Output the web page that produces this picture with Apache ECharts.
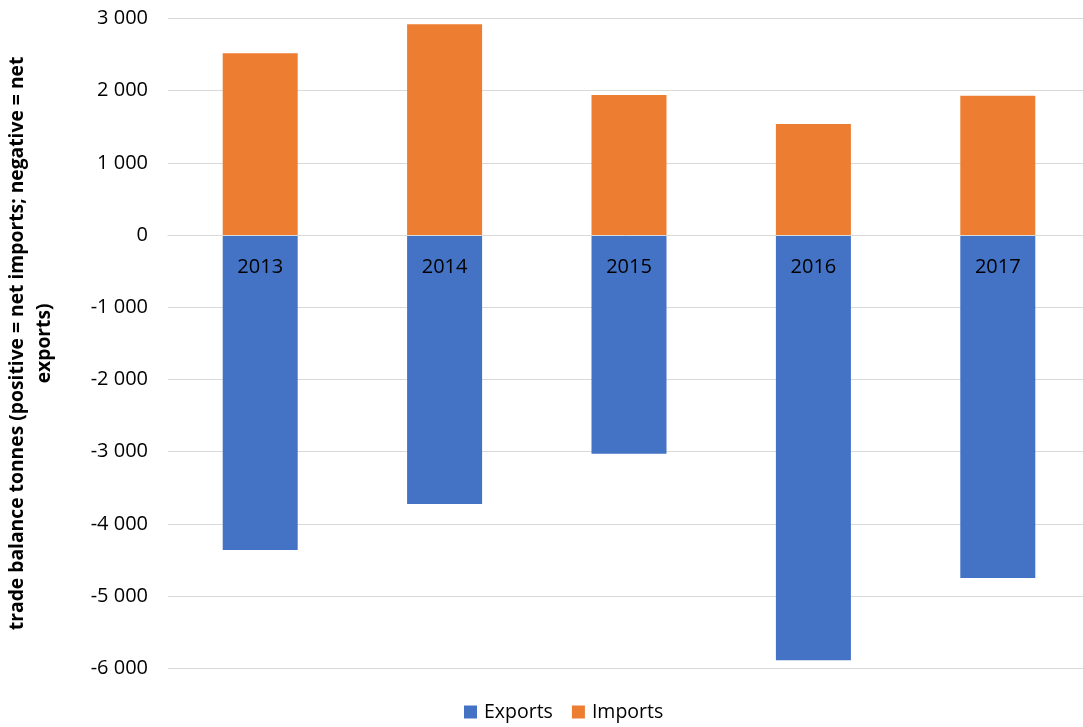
<!DOCTYPE html>
<html>
<head>
<meta charset="utf-8">
<script src="https://cdn.jsdelivr.net/npm/echarts@6/dist/echarts.min.js"></script>
<style>html,body{margin:0;padding:0;background:#fff}#c{width:1083px;height:727px}</style>
</head>
<body>
<div id="c"></div>
<script>
const categories = ['2013', '2014', '2015', '2016', '2017'];
const exportsData = [-4360, -3725, -3030, -5890, -4750];
const importsData = [2520, 2920, 1940, 1540, 1930];
const yMin = -6000, yMax = 3000, yStep = 1000;
const yAxisTitle = 'trade balance tonnes (positive = net imports; negative = net\nexports)';

const FONT = '"Open Sans", "Liberation Sans", sans-serif';
function fmt(v) {
  const s = String(Math.abs(v)).replace(/\B(?=(\d{3})+(?!\d))/g, ' ');
  return (v < 0 ? '-' : '') + s;
}
const gridTop = 18.5, gridBottom = 58.7;
const plotH = 727 - gridTop - gridBottom;
const zeroOffset = -plotH * (0 - yMin) / (yMax - yMin);

const chart = echarts.init(document.getElementById('c'), null, {renderer: 'canvas'});
chart.setOption({
  animation: false,
  textStyle: {fontFamily: FONT},
  grid: {left: 168, right: -7, top: gridTop, bottom: gridBottom, containLabel: false, outerBoundsMode: 'none'},
  legend: {
    bottom: 0, left: 459,
    itemWidth: 13, itemHeight: 13, itemGap: 19,
    icon: 'rect',
    textStyle: {fontSize: 19.5, color: '#000', fontFamily: FONT, padding: [0, 0, 0, 2]},
    data: ['Exports', 'Imports']
  },
  xAxis: {
    type: 'category', data: categories, z: 10,
    offset: zeroOffset,
    axisLine: {show: true, onZero: false, lineStyle: {color: '#D9D9D9', width: 1}},
    axisTick: {show: false},
    axisLabel: {color: '#000', fontSize: 20, margin: 22, fontFamily: FONT},
    splitLine: {show: false}
  },
  yAxis: {
    type: 'value', min: yMin, max: yMax, interval: yStep,
    name: yAxisTitle, nameLocation: 'middle', nameRotate: 90, nameGap: 110,
    nameTextStyle: {fontSize: 19.3, fontWeight: 'bold', color: '#000', fontFamily: FONT, lineHeight: 27, align: 'center'},
    axisLine: {show: false}, axisTick: {show: false},
    axisLabel: {color: '#000', fontSize: 20, margin: 20, formatter: fmt, fontFamily: FONT},
    splitLine: {lineStyle: {color: '#D9D9D9', width: 1}}
  },
  series: [
    {name: 'Exports', type: 'bar', stack: 'total', data: exportsData, barWidth: 75,
     itemStyle: {color: '#4472C4'}},
    {name: 'Imports', type: 'bar', stack: 'total', data: importsData, barWidth: 75,
     itemStyle: {color: '#ED7D31'}}
  ]
});
</script>
</body>
</html>
